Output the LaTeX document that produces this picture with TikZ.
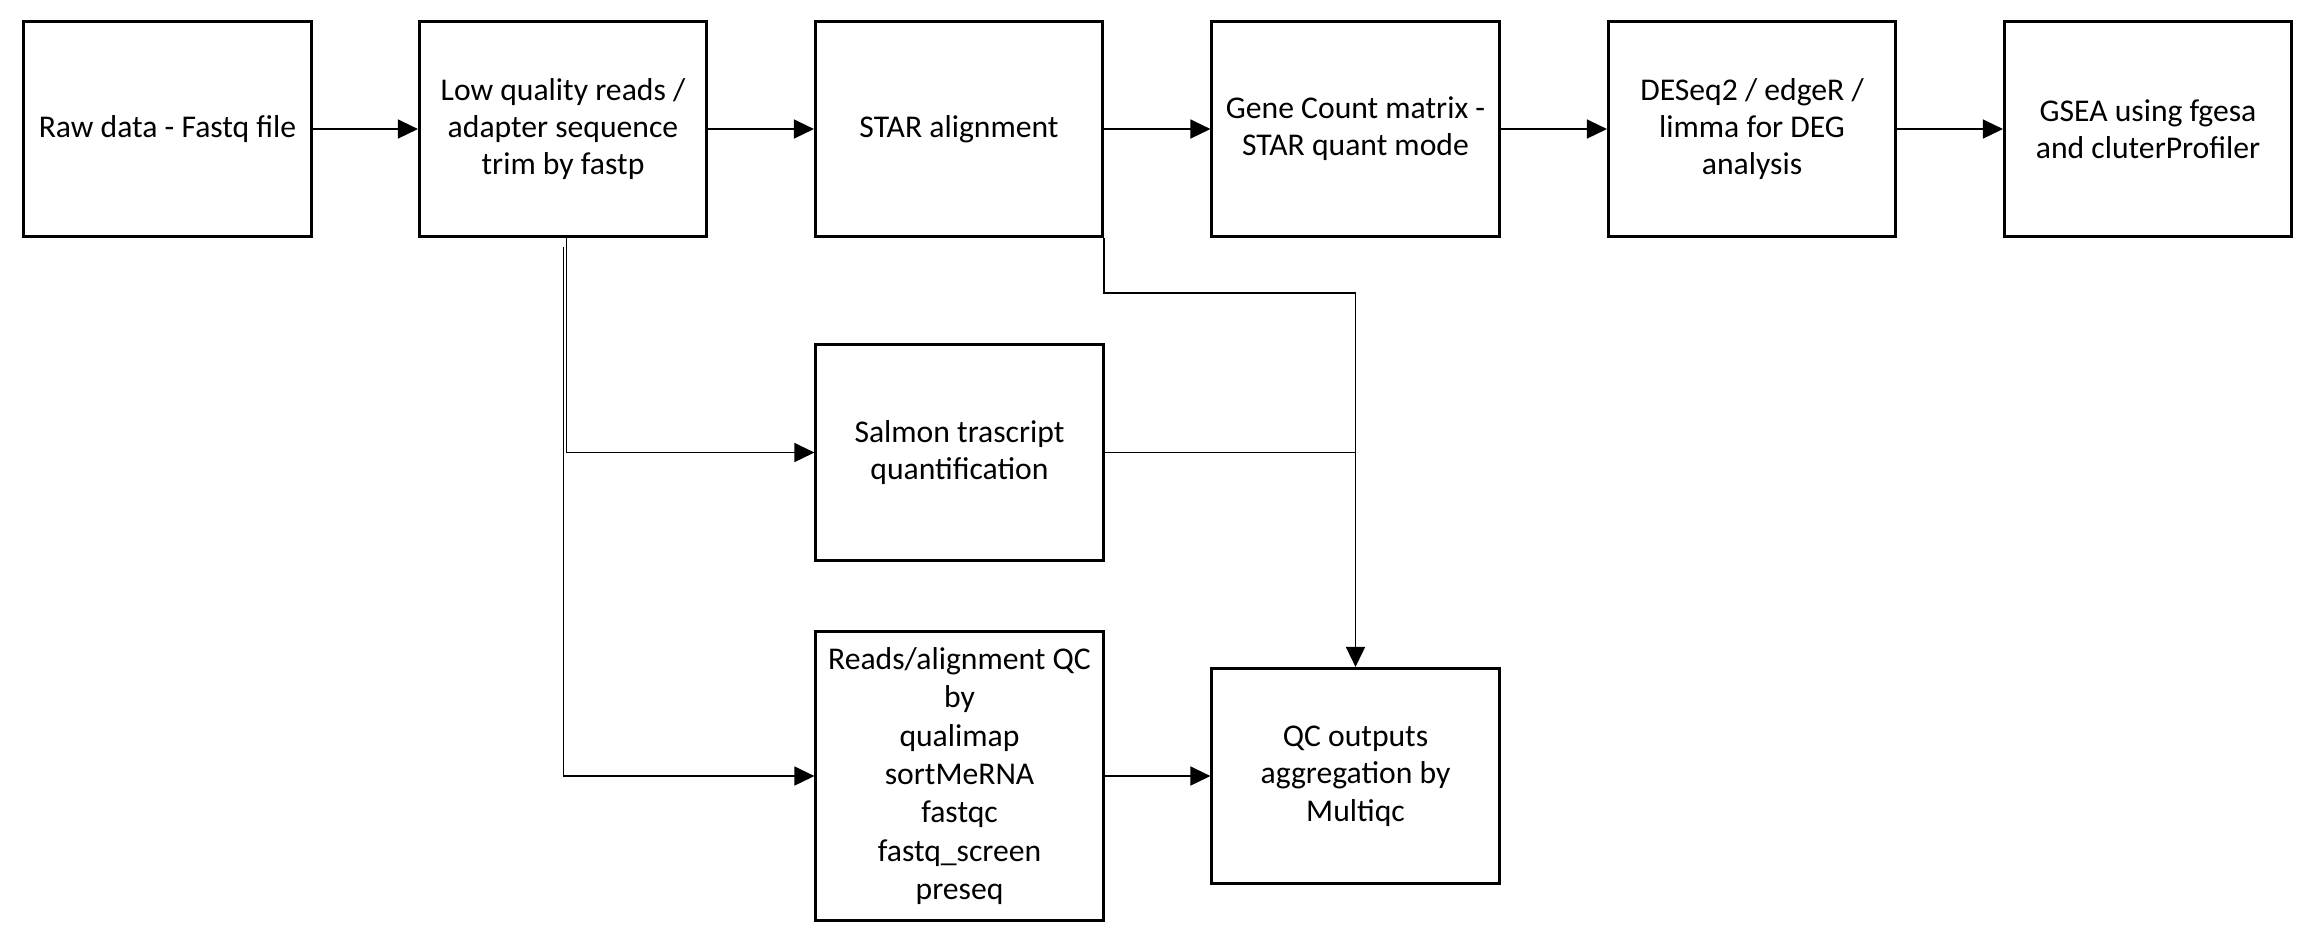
\documentclass[tikz,border=0pt]{standalone}
\usepackage{fontspec}
\setmainfont{Carlito}
\usetikzlibrary{arrows.meta}
\tikzset{
  stepbox/.style={draw, line width=0.85pt, minimum width=2.87cm, minimum height=2.15cm,
    align=center, inner sep=0pt, font=\fontsize{9}{10.6}\selectfont},
  tallbox/.style={stepbox, minimum height=2.88cm, font=\fontsize{9}{10.9}\selectfont},
  conn/.style={line width=0.4pt, -{Triangle[length=0.2cm,width=0.19cm]}},
  plain/.style={line width=0.4pt}
}
\begin{document}
\begin{tikzpicture}[x=0.01cm,y=-0.01cm]
\useasboundingbox (0,0) rectangle (2313,947);
\node[stepbox] (raw)   at (167.5,129) {Raw data - Fastq file};
\node[stepbox] (fastp) at (563,129) {Low quality reads /\\adapter sequence\\trim by fastp};
\node[stepbox] (star)  at (959,129) {STAR alignment};
\node[stepbox] (gcm)   at (1355.5,129) {Gene Count matrix -\\STAR quant mode};
\node[stepbox] (deg)   at (1752,129) {DESeq2 / edgeR /\\limma for DEG\\analysis};
\node[stepbox] (gsea)  at (2148,129) {GSEA using fgesa\\and cluterProfiler};
\node[stepbox] (salmon) at (959.5,452.5) {Salmon trascript\\quantification};
\node[tallbox] (qc)    at (959.5,776) {Reads/alignment QC\\by\\qualimap\\sortMeRNA\\fastqc\\fastq\_screen\\preseq};
\node[stepbox] (mq)    at (1355.5,776) {QC outputs\\aggregation by\\Multiqc};

\draw[conn] (raw) -- (fastp);
\draw[conn] (fastp) -- (star);
\draw[conn] (star) -- (gcm);
\draw[conn] (gcm) -- (deg);
\draw[conn] (deg) -- (gsea);

\coordinate (b1) at (566.6,238);
\coordinate (b2) at (563.6,247);
\draw[conn] (b1) |- (salmon.west);
\draw[conn] (b2) |- (qc.west);
\draw[conn] (qc) -- (mq);
\draw[conn] (star.south east) -- ++(0,55) -| (mq.north);
\coordinate (j) at (salmon.east -| mq.north);
\draw[plain] (salmon.east) -- (j);
\end{tikzpicture}
\end{document}
